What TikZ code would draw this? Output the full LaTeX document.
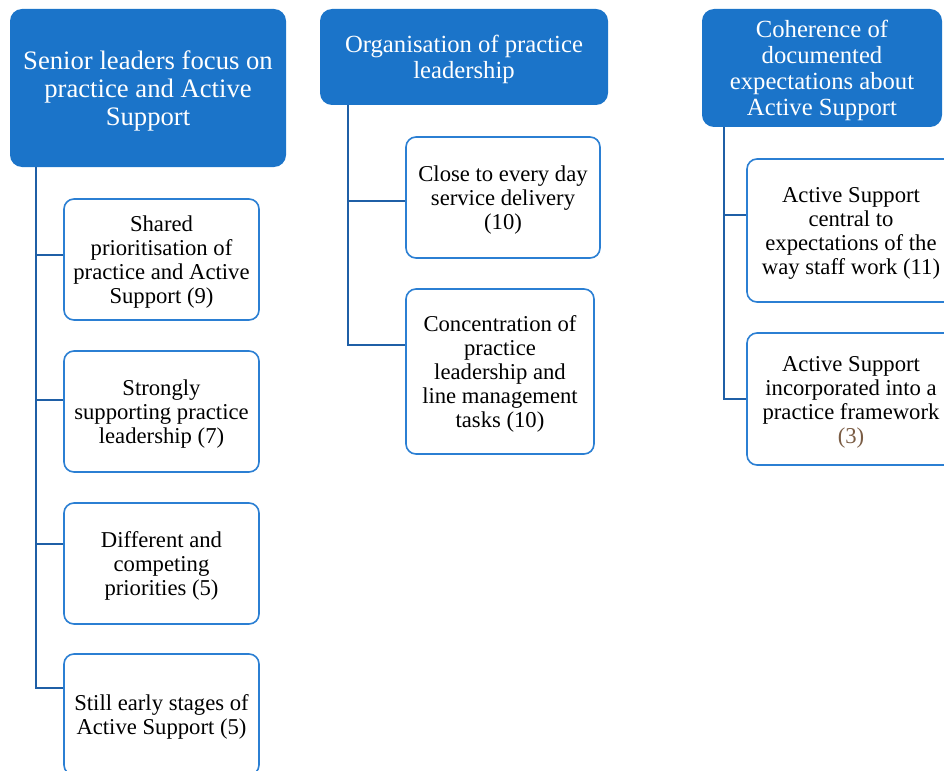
\documentclass[tikz,border=0pt]{standalone}
\usepackage{fontspec}
\setmainfont{Liberation Serif}

\definecolor{headblue}{HTML}{1B74C9}
\definecolor{itemblue}{HTML}{2B7FD3}
\definecolor{linkblue}{HTML}{1F5FA6}
\definecolor{countbrown}{HTML}{7A5C44}

% pushes the first line of a box down a little
\newcommand{\topgap}{\rule{0pt}{0.95em}}

\begin{document}
\begin{tikzpicture}[x=0.75pt, y=-0.75pt,
    head/.style={rectangle, rounded corners=9pt, fill=headblue, text=white, align=center, inner sep=0pt},
    item/.style={rectangle, rounded corners=7.5pt, draw=itemblue, line width=1.2pt, fill=white,
                 align=center, inner sep=0pt, font=\fontsize{17}{18}\selectfont},
    link/.style={draw=linkblue, line width=1.5pt}]

    \useasboundingbox (0,0) rectangle (944,770);

    % Headers
    \node[head, minimum width=207pt, minimum height=118.5pt, font=\fontsize{20}{21}\selectfont]
        (H1) at (148,88) {\topgap Senior leaders focus on\\practice and Active\\Support};
    \node[head, minimum width=216pt, minimum height=72pt, font=\fontsize{18.5}{19.5}\selectfont]
        (H2) at (464,57) {\rule{0pt}{0.88em}Organisation of practice\\leadership};
    \node[head, minimum width=180pt, minimum height=88.5pt, font=\fontsize{18.5}{19.5}\selectfont]
        (H3) at (822,68) {\rule{0pt}{0.88em}Coherence of\\documented\\expectations about\\Active Support};

    % Senior leaders column
    \foreach \i/\y/\txt in {1/259.5/{Shared\\prioritisation of\\practice and Active\\Support (9)},
                            2/411.5/{Strongly\\supporting practice\\leadership (7)},
                            3/563.5/{Different and\\competing\\priorities (5)},
                            4/714.5/{Still early stages of\\Active Support (5)}}
    \node[item, minimum width=146.25pt, minimum height=90.75pt] (S\i) at (161.5,\y) {\topgap\txt};

    % Practice leadership column
    \node[item, minimum width=145.5pt, minimum height=90.75pt] (P1) at (503,197.5)
        {\topgap Close to every day\\service delivery\\(10)};
    \node[item, minimum width=141pt, minimum height=123.75pt] (P2) at (500,371.5)
        {\topgap Concentration of\\practice\\leadership and\\line management\\tasks (10)};

    % Documented expectations column
    \node[item, minimum width=156pt, minimum height=107.25pt] (E1) at (851,230.5)
        {\topgap Active Support\\central to\\expectations of the\\way staff work (11)};
    \node[item, minimum width=156pt, minimum height=99pt] (E2) at (851,399)
        {\topgap Active Support\\incorporated into a\\practice framework\\{\color{countbrown}(3)}};

    % Connect headers to items
    \foreach \i/\dy in {1/-4.5, 2/-11.5, 3/-19.5, 4/-26.5}
    \draw[link] ([xshift=19.5pt]H1.south west) |- ([shift={(0,\dy)}]S\i.west);

    \draw[link] ([xshift=21pt]H2.south west) |- ([shift={(0,3.5)}]P1.west);
    \draw[link] ([xshift=21pt]H2.south west) |- ([shift={(0,-26.5)}]P2.west);

    \draw[link] ([xshift=16.5pt]H3.south west) |- ([shift={(0,-15.5)}]E1.west);
    \draw[link] ([xshift=16.5pt]H3.south west) |- (E2.west);

\end{tikzpicture}
\end{document}
